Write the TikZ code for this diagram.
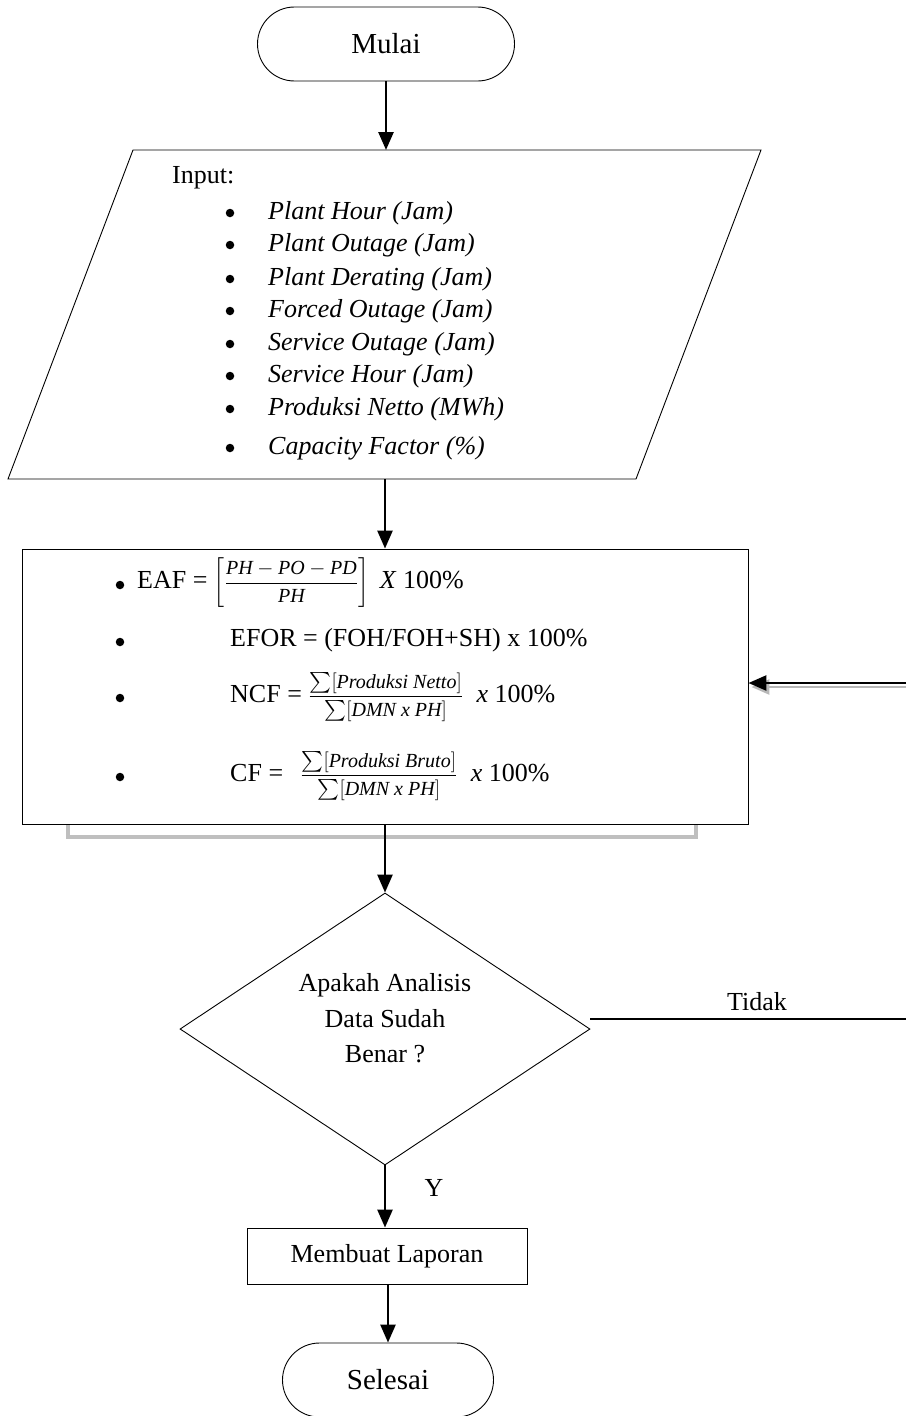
\documentclass[tikz,border=0pt]{standalone}
\usepackage{amsmath}
\usepackage{fontspec}
\setmainfont{Liberation Serif}
\usetikzlibrary{arrows.meta,shapes.geometric,calc}
\begin{document}
\begin{tikzpicture}[x=1pt,y=-1pt,
  every node/.style={font=\fontsize{26}{30}\selectfont, inner sep=0pt},
  outl/.style={draw=black, line width=0.9pt},
  term/.style={outl, rounded corners=37pt, minimum height=74pt, font=\fontsize{29}{33}\selectfont},
  flow/.style={line width=2.6pt, -{Triangle[length=18pt,width=15pt]}},
  shadowflow/.style={line width=2.6pt, draw=black!28, -{Triangle[length=18pt,width=15pt]}},
  bul/.style={circle, fill=black, minimum size=8.5pt},
  item/.style={anchor=west, font=\fontsize{26}{30}\selectfont\itshape},
  lbl/.style={anchor=center},
  frac/.style={font=\fontsize{20}{24}\selectfont}
]
\useasboundingbox (0,0) rectangle (906,1416);

% terminals
\node[term, minimum width=257pt] (mulai) at (386,44) {Mulai};

% input parallelogram
\draw[outl] (133,150) -- (761,150) -- (636,479) -- (8,479) -- cycle;
\coordinate (inTop) at (386,150);
\coordinate (inBot) at (385,479);
\node[anchor=west] (inp) at (172,178) {Input:};
\foreach \y/\t [count=\i] in {213/Plant Hour (Jam),245/Plant Outage (Jam),279/Plant Derating (Jam),311/Forced Outage (Jam),344/Service Outage (Jam),376/Service Hour (Jam),409/Produksi Netto (MWh),448/Capacity Factor (\%)}{
  \node[bul] (b\i) at (230,\y) {};
  \node[item] (it\i) at (268,\y) {\t};
}

% process box with shadow
\draw[draw=black!25, line width=4pt] (68,800) rectangle (696,837);
\node[outl, fill=white, minimum width=726pt, minimum height=275pt] (proc) at (385,686.5) {};
\node[bul] (pb1) at (120,585) {};
\node[bul] (pb2) at (120,642) {};
\node[bul] (pb3) at (120,698) {};
\node[bul] (pb4) at (120,777) {};
\node[anchor=west] (eaf) at (137,583) {EAF = {\fontsize{20}{24}\selectfont$\left[\dfrac{\mathit{PH}-\mathit{PO}-\mathit{PD}}{\mathit{PH}}\right]$}\, \textit{X} 100\%};
\node[anchor=west] (efor) at (230,640) {EFOR = (FOH/FOH+SH) x 100\%};
\node[anchor=west] (ncf) at (230,697) {NCF = {\fontsize{20}{24}\selectfont$\dfrac{\sum[\text{\itshape Produksi Netto}]}{\sum[\text{\itshape DMN x PH}]}$}\; \textit{x} 100\%};
\node[anchor=west] (cf) at (230,776) {CF = \, {\fontsize{20}{24}\selectfont$\dfrac{\sum[\text{\itshape Produksi Bruto}]}{\sum[\text{\itshape DMN x PH}]}$}\; \textit{x} 100\%};

% decision
\node[outl, diamond, aspect=1.5, minimum width=410pt, minimum height=272pt] (dec) at (385,1029) {};
\node[align=center, font=\fontsize{26}{35.5}\selectfont] (dectxt) at (385,1018.5) {Apakah Analisis\\Data Sudah\\Benar ?};

% report box
\node[outl, minimum width=280pt, minimum height=56pt] (lap) at (387,1256) {Membuat Laporan};

\node[term, minimum width=211pt] (selesai) at (388,1380) {Selesai};

% right side loop ends
\coordinate (r1) at (906,683);
\coordinate (r2) at (906,1019);

% connectors
\draw[flow] (mulai.south) -- (inTop);
\draw[flow] (inBot) -- (proc.north);
\draw[flow] (proc.south) -- (dec.north);
\draw[flow] (dec.south) -- (dec.south |- lap.north);
\draw[flow] (lap.south -| selesai.north) -- (selesai.north);
\draw[shadowflow] ([yshift=-4pt]r1) -- ([yshift=-4pt,xshift=3pt]r1 -| proc.east);
\draw[flow] (r1) -- (r1 -| proc.east);
\draw[outl, line width=1.2pt] (r2 -| dec.east) -- (r2);

\node[lbl] (tidak) at (757,1002) {Tidak};
\node[lbl] (ylbl) at (434,1188) {Y};
\end{tikzpicture}
\end{document}
